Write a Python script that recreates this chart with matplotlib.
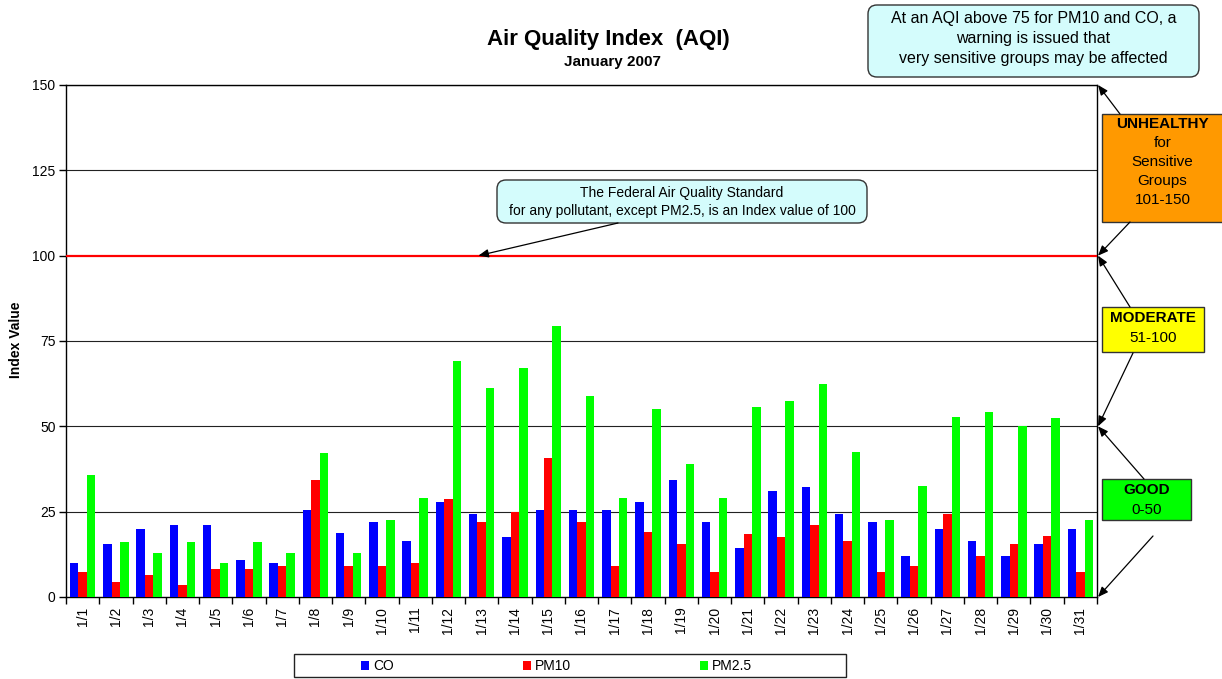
import numpy as np
import matplotlib
matplotlib.use("Agg")
import matplotlib.pyplot as plt
from matplotlib.patches import Rectangle, FancyBboxPatch

plt.rcParams["font.family"] = ["Liberation Sans", "DejaVu Sans"]

# ----------------------------------------------------------------------
# Data
# ----------------------------------------------------------------------
days = [f"1/{d}" for d in range(1, 32)]
co = [10.0, 15.6, 20.0, 21.2, 21.2, 10.9, 10.0, 25.6, 18.8, 22.1,
      16.4, 27.9, 24.4, 17.6, 25.5, 25.5, 25.5, 27.9, 34.3, 22.0,
      14.4, 31.1, 32.3, 24.4, 22.0, 12.0, 20.0, 16.4, 12.0, 15.6, 20.0]
pm10 = [7.4, 4.5, 6.3, 3.6, 8.3, 8.3, 9.2, 34.4, 9.2, 9.2,
        10.0, 28.8, 22.0, 25.0, 40.8, 22.0, 9.1, 19.1, 15.6, 7.3,
        18.5, 17.6, 21.1, 16.4, 7.3, 9.1, 24.4, 12.0, 15.6, 17.9, 7.3]
pm25 = [35.8, 16.2, 13.0, 16.2, 10.1, 16.2, 13.0, 42.3, 13.0, 22.7,
        29.1, 69.0, 61.1, 67.2, 79.3, 59.0, 29.1, 55.2, 39.0, 29.1,
        55.8, 57.5, 62.5, 42.6, 22.6, 32.6, 52.8, 54.3, 50.2, 52.5, 22.6]
series_names = ["CO", "PM10", "PM2.5"]
series_colors = ["#0000FF", "#FF0000", "#00FF00"]
y_ticks = [0, 25, 50, 75, 100, 125, 150]
standard_value = 100

W, H = 1222, 679
fig = plt.figure(figsize=(W / 100, H / 100), dpi=100)
ax = fig.add_axes([66 / W, (H - 597) / H, 1031 / W, 512 / H])

# ----------------------------------------------------------------------
# Bars
# ----------------------------------------------------------------------
x = np.arange(len(days))
bw = 0.255
bars = []
for k, (vals, col, name) in enumerate(zip([co, pm10, pm25], series_colors, series_names)):
    b = ax.bar(x + (k - 1) * bw, vals, bw, color=col, label=name, zorder=3)
    bars.append(b)

ax.set_xlim(-0.5, len(days) - 0.5)
ax.set_ylim(0, 150)

# gridlines
for v in y_ticks[1:]:
    if v == standard_value:
        ax.axhline(v, color="#FF0000", lw=1.6, zorder=4)
    else:
        ax.axhline(v, color="#222222", lw=0.8, zorder=1)

ax.set_yticks(y_ticks)
ax.tick_params(axis="y", direction="out", length=5, width=1, pad=2.5, labelsize=10)
ax.set_xticks(np.arange(len(days) + 1) - 0.5)
ax.set_xticklabels([])
ax.set_xticks(x, minor=True)
ax.set_xticklabels(days, minor=True, rotation=90, fontsize=10)
ax.tick_params(axis="x", which="major", direction="out", length=5, width=1)
ax.tick_params(axis="x", which="minor", length=0, pad=7)
for s in ax.spines.values():
    s.set_color("black")
    s.set_linewidth(1)

# titles
fig.text(608 / W, 1 - 39 / H, "Air Quality Index  (AQI)", ha="center", va="center",
         fontsize=16, fontweight="bold")
fig.text(612 / W, 1 - 62 / H, "January 2007", ha="center", va="center",
         fontsize=11, fontweight="bold")
fig.text(16 / W, 1 - 340 / H, "Index Value", ha="center", va="center",
         rotation=90, fontsize=10, fontweight="bold")

# legend
fig.legend(handles=bars, labels=series_names, ncol=3, frameon=False, loc="center left",
           bbox_to_anchor=(361 / W, 1 - 666 / H), borderpad=0, borderaxespad=0,
           handlelength=0.6, handleheight=0.6, handletextpad=0.25,
           columnspacing=9.3, fontsize=10)

# ----------------------------------------------------------------------
# Overlay in pixel coordinates for boxes and arrows
# ----------------------------------------------------------------------
ov = fig.add_axes([0, 0, 1, 1])
ov.set_xlim(0, W)
ov.set_ylim(H, 0)
ov.axis("off")

# legend frame
ov.add_patch(Rectangle((294, 654), 552, 23, fill=False, ec="#222222", lw=1))

# callout boxes (light cyan, rounded)
def callout(x0, y0, x1, y1, lines, ys, size):
    ov.add_patch(FancyBboxPatch((x0, y0), x1 - x0, y1 - y0,
                                boxstyle="round,pad=0,rounding_size=9",
                                fc="#d4fcfc", ec="#333333", lw=1))
    cx = (x0 + x1) / 2
    for t, yy in zip(lines, ys):
        ov.text(cx, yy, t, ha="center", va="center", fontsize=size)

callout(868, 5, 1199, 77,
        ["At an AQI above 75 for PM10 and CO, a", "warning is issued that",
         "very sensitive groups may be affected"],
        [19, 39, 59], 11.5)
callout(497, 180, 867, 223,
        ["The Federal Air Quality Standard",
         "for any pollutant, except PM2.5, is an Index value of 100"],
        [193, 211], 10)

# category boxes on the right
def category(x0, y0, x1, y1, color, bold, rest, ys):
    ov.add_patch(Rectangle((x0, y0), x1 - x0, y1 - y0, fc=color, ec="#333333", lw=1))
    cx = (x0 + min(x1, 1223)) / 2
    ov.text(cx, ys[0], bold, ha="center", va="center", fontsize=11, fontweight="bold")
    for t, yy in zip(rest, ys[1:]):
        ov.text(cx, yy, t, ha="center", va="center", fontsize=11)

category(1102, 114, 1224, 222, "#FF9900", "UNHEALTHY",
         ["for", "Sensitive", "Groups", "101-150"], [124, 143, 162, 181, 200])
category(1102, 307, 1204, 352, "#FFFF00", "MODERATE", ["51-100"], [318, 338])
category(1102, 479, 1191, 520, "#00FF00", "GOOD", ["0-50"], [490, 510])

# arrows
arrow_kw = dict(arrowstyle="-|>,head_length=0.6,head_width=0.25", color="black",
                lw=0.9, shrinkA=0, shrinkB=0, mutation_scale=10)
ytrans = ax.get_yaxis_transform()
for tail, val in [((1120, 114), 150), ((1130, 222), 100), ((1130, 307), 100),
                  ((1133, 353), 50), ((1144, 479), 50), ((1153, 536), 0)]:
    ov.annotate("", xy=(1.001, val), xycoords=ytrans, xytext=tail, textcoords="data",
                arrowprops=arrow_kw)
ov.annotate("", xy=(11.9, standard_value), xycoords=ax.transData, xytext=(618, 223),
            textcoords="data", arrowprops=arrow_kw)

fig.savefig("out.png", dpi=100)
